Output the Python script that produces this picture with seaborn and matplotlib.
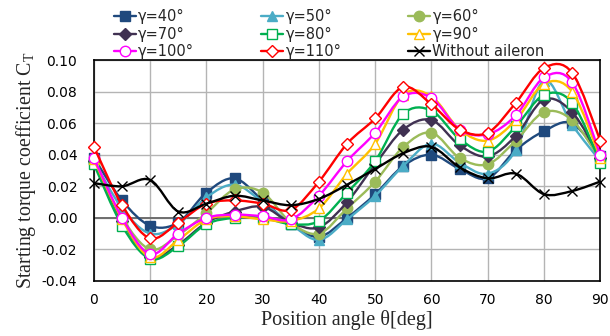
import numpy as np
import matplotlib
matplotlib.use("Agg")
import matplotlib.pyplot as plt
import seaborn as sns
from matplotlib.path import Path
from matplotlib.patches import PathPatch
from matplotlib.lines import Line2D

sns.set_theme(style="white")
plt.rcParams['font.family'] = ['DejaVu Sans']
plt.rcParams['axes.unicode_minus'] = False
plt.rcParams['mathtext.fontset'] = 'custom'
plt.rcParams['mathtext.rm'] = 'Liberation Serif'

# position angle [deg]
theta = [0, 5, 10, 15, 20, 25, 30, 35, 40, 45, 50, 55, 60, 65, 70, 75, 80, 85, 90]

# starting torque coefficient
g40 = [0.038, 0.011, -0.005, -0.003, 0.016, 0.025, 0.011, -0.004, -0.012, 0.000,
       0.015, 0.033, 0.040, 0.031, 0.025, 0.043, 0.055, 0.060, 0.039]
g50 = [0.036, 0.006, -0.010, -0.004, 0.013, 0.021, 0.010, -0.004, -0.014, -0.001,
       0.014, 0.033, 0.047, 0.035, 0.028, 0.043, 0.087, 0.059, 0.036]
g60 = [0.035, 0.000, -0.020, -0.011, 0.003, 0.018, 0.016, -0.003, -0.010, 0.006,
       0.023, 0.045, 0.054, 0.038, 0.034, 0.049, 0.067, 0.062, 0.037]
g70 = [0.036, -0.002, -0.025, -0.017, -0.003, 0.004, 0.007, -0.003, -0.006, 0.010,
       0.034, 0.056, 0.062, 0.046, 0.039, 0.052, 0.075, 0.067, 0.038]
g80 = [0.034, -0.005, -0.026, -0.018, -0.004, 0.000, 0.000, -0.004, -0.002, 0.016,
       0.036, 0.066, 0.068, 0.050, 0.042, 0.058, 0.078, 0.073, 0.035]
g90 = [0.037, -0.001, -0.025, -0.014, -0.001, 0.001, -0.001, -0.002, 0.006, 0.028,
       0.047, 0.078, 0.077, 0.056, 0.049, 0.062, 0.085, 0.080, 0.038]
g100 = [0.038, 0.000, -0.023, -0.010, 0.000, 0.002, 0.001, -0.001, 0.014, 0.036,
        0.054, 0.077, 0.076, 0.056, 0.053, 0.065, 0.089, 0.086, 0.040]
g110 = [0.045, 0.008, -0.013, -0.003, 0.009, 0.011, 0.009, 0.005, 0.023, 0.047,
        0.063, 0.083, 0.072, 0.056, 0.054, 0.073, 0.095, 0.092, 0.049]
no_aileron = [0.022, 0.020, 0.024, 0.004, 0.009, 0.014, 0.011, 0.008, 0.012, 0.021,
              0.031, 0.041, 0.045, 0.032, 0.025, 0.028, 0.015, 0.017, 0.023]

labels = ["γ=40°", "γ=50°", "γ=60°", "γ=70°", "γ=80°", "γ=90°",
          "γ=100°", "γ=110°", "Without aileron"]
series = [g40, g50, g60, g70, g80, g90, g100, g110, no_aileron]

# style: colour, marker, filled
styles = [
    ("#1F497D", "s", True),
    ("#4BACC6", "^", True),
    ("#9BBB59", "o", True),
    ("#403152", "D", True),
    ("#00B050", "s", False),
    ("#FFC000", "^", False),
    ("#FF00FF", "o", False),
    ("#FF0000", "D", False),
    ("#000000", "x", False),
]
msizes = {"s": 7, "^": 7.5, "o": 7.5, "D": 6, "x": 7.5}


def smooth_path(xs, ys):
    # Catmull-Rom through the data points, drawn as cubic Bezier (like Excel's smoothed line)
    pts = np.column_stack([xs, ys]).astype(float)
    p = np.vstack([pts[0], pts, pts[-1]])
    verts = [pts[0]]
    codes = [Path.MOVETO]
    for i in range(1, len(p) - 2):
        c1 = p[i] + (p[i + 1] - p[i - 1]) / 6
        c2 = p[i + 1] - (p[i + 2] - p[i]) / 6
        verts += [c1, c2, p[i + 1]]
        codes += [Path.CURVE4] * 3
    return Path(verts, codes)


fig = plt.figure(figsize=(6.10, 3.36), dpi=100)
ax = fig.add_axes([0.154, 0.164, 0.830, 0.657])

handles = []
for i, (vals, lab, (c, m, filled)) in enumerate(zip(series, labels, styles)):
    z = 3 + i * 0.1
    ax.add_patch(PathPatch(smooth_path(theta, vals), fill=False, edgecolor=c,
                           lw=1.7, zorder=z))
    fc = c if filled else "white"
    if m == "x":
        fc = c
    sns.lineplot(x=theta, y=vals, ax=ax, color=c, lw=0, marker=m,
                 markersize=msizes[m], markerfacecolor=fc, markeredgecolor=c,
                 markeredgewidth=1.0, clip_on=False, zorder=z + 0.05)
    handles.append(Line2D([], [], color=c, lw=1.7, marker=m, markersize=msizes[m],
                          markerfacecolor=fc, markeredgecolor=c, markeredgewidth=1.0))

ax.set_xlim(0, 90)
ax.set_ylim(-0.04, 0.10)
ax.set_xticks(np.arange(0, 91, 10))
ax.set_yticks(np.arange(-0.04, 0.101, 0.02))
ax.set_yticklabels([f"{v:.2f}" for v in np.arange(-0.04, 0.101, 0.02)])
ax.grid(True, color="#b4b4b4", lw=1.0, zorder=0)
ax.axhline(0, color="#6e6e6e", lw=1.4, zorder=1)
for s in ax.spines.values():
    s.set_color("black")
    s.set_linewidth(1.2)
ax.tick_params(axis="both", length=0, labelsize=10, colors="black")
ax.tick_params(axis="y", pad=12)
ax.tick_params(axis="x", pad=9)

ax.set_xlabel("Position angle θ[deg]", family="Liberation Serif", fontsize=14.5,
              labelpad=2)
ax.set_ylabel(r"Starting torque coefficient C$_{\rm T}$", family="Liberation Serif",
              fontsize=14.3, labelpad=3)

# legend fills row by row in the reference: reorder for column-wise filling
order = [0, 3, 6, 1, 4, 7, 2, 5, 8]
ax.legend([handles[k] for k in order], [labels[k] for k in order], ncol=3,
          frameon=False, loc="upper left", bbox_to_anchor=(0.180, 0.985),
          bbox_transform=fig.transFigure, fontsize=10.5, handlelength=1.5,
          handletextpad=0.15, columnspacing=4.6, labelspacing=0.17,
          borderpad=0.3, borderaxespad=0)

fig.savefig("out.png", dpi=100)
